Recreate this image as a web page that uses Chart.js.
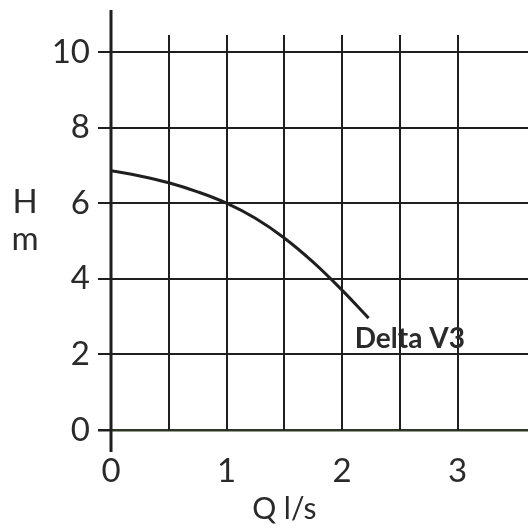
<!DOCTYPE html>
<html>
<head>
<meta charset="utf-8">
<script src="https://cdn.jsdelivr.net/npm/chart.js@4/dist/chart.umd.min.js"></script>
<style>
  body { margin: 0; background: #fff; }
  canvas { display: block; }
</style>
</head>
<body>
<canvas id="pumpChart" width="528" height="530"></canvas>
<script>
// pump curve
const flow = [0, 0.25, 0.5, 0.75, 1, 1.25, 1.5, 1.75, 2, 2.23];
const head = [6.86, 6.72, 6.54, 6.30, 6.0, 5.60, 5.08, 4.44, 3.70, 2.96];

const headTicks = [0, 2, 4, 6, 8, 10];
const flowTicks = [0, 1, 2, 3];
const flowGrid = [0.5, 1, 1.5, 2, 2.5, 3];

const curveName = 'Delta V3';
const xTitle = 'Q l/s';
const yTitle = ['H', 'm'];

const lineColor = '#1f1f1f';
const zeroColor = '#2e3624';
const textColor = '#2a2a2a';

const points = flow.map((q, i) => ({x: q, y: head[i]}));

const extras = {
    id: 'extras',
    beforeDatasetsDraw(chart) {
        const ctx = chart.ctx;
        const x = chart.scales.x;
        const y = chart.scales.y;
        ctx.save();
        // vertical grid, stops a little above 10
        ctx.strokeStyle = lineColor;
        ctx.lineWidth = 2;
        for (const q of flowGrid) {
            const px = Math.round(x.getPixelForValue(q));
            ctx.beginPath();
            ctx.moveTo(px, y.getPixelForValue(0));
            ctx.lineTo(px, y.getPixelForValue(10.45));
            ctx.stroke();
        }
        // H axis, runs past 0 at the bottom
        ctx.lineWidth = 3;
        const x0 = x.getPixelForValue(0);
        ctx.beginPath();
        ctx.moveTo(x0, y.getPixelForValue(11.11));
        ctx.lineTo(x0, y.getPixelForValue(-0.58));
        ctx.stroke();
        ctx.restore();
    },
    afterDraw(chart) {
        const ctx = chart.ctx;
        const x = chart.scales.x;
        const y = chart.scales.y;
        ctx.save();
        ctx.fillStyle = textColor;
        ctx.font = '33px Lato';
        ctx.textAlign = 'center';
        ctx.textBaseline = 'alphabetic';
        ctx.fillText(yTitle[0], 25, 213);
        ctx.fillText(yTitle[1], 25, 250);
        ctx.font = '30px Lato';
        ctx.fillText(xTitle, x.getPixelForValue(1.5), 519);

        ctx.font = 'bold 28px Lato';
        ctx.textAlign = 'left';
        ctx.fillText(curveName, x.getPixelForValue(2.11), y.getPixelForValue(2.17));
        ctx.restore();
    }
};

new Chart(document.getElementById('pumpChart'), {
    type: 'line',
    data: {
        datasets: [{
            label: curveName,
            data: points,
            borderColor: lineColor,
            borderWidth: 3,
            pointRadius: 0,
            fill: false,
            tension: 0.4
        }]
    },
    options: {
        responsive: false,
        animation: false,
        layout: {padding: {top: 10, left: 0, right: 0, bottom: 0}},
        plugins: {
            legend: {display: false},
            tooltip: {enabled: false}
        },
        scales: {
            x: {
                type: 'linear',
                min: 0,
                max: 3.61,
                afterBuildTicks: axis => { axis.ticks = flowTicks.map(v => ({value: v})); },
                afterFit: axis => { axis.height = 100; axis.paddingLeft = 0; axis.paddingRight = 0; },
                grid: {display: false, drawTicks: false},
                border: {display: false},
                ticks: {
                    padding: 22,
                    color: textColor,
                    font: {family: 'Lato', size: 33}
                }
            },
            y: {
                min: 0,
                max: 11.11,
                afterBuildTicks: axis => { axis.ticks = headTicks.map(v => ({value: v})); },
                afterFit: axis => { axis.width = 111; axis.paddingTop = 0; axis.paddingBottom = 0; },
                grid: {
                    color: c => c.tick && c.tick.value === 0 ? zeroColor : lineColor,
                    lineWidth: c => c.tick && c.tick.value === 0 ? 2.5 : 2,
                    drawTicks: true,
                    tickLength: 13,
                    tickColor: lineColor
                },
                border: {display: false},
                ticks: {
                    padding: 8,
                    color: textColor,
                    font: {family: 'Lato', size: 33}
                }
            }
        }
    },
    plugins: [extras]
});
</script>
</body>
</html>
